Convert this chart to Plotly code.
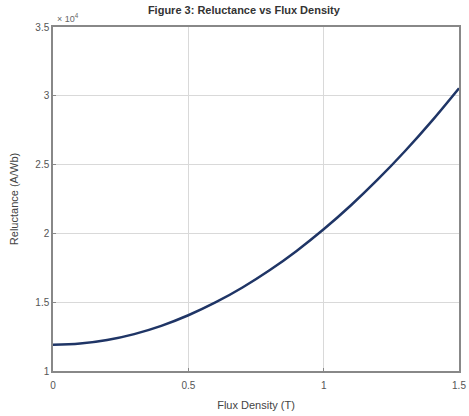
import plotly.graph_objects as go

flux_density = [0.0, 0.1, 0.2, 0.3, 0.4, 0.5, 0.6, 0.7, 0.8, 0.9, 1.0, 1.1, 1.2, 1.3, 1.4, 1.5]
reluctance = [11900, 11990, 12250, 12680, 13280, 14050, 14980, 16070, 17320, 18730,
              20300, 22030, 23920, 25970, 28180, 30550]
y_tick_vals = [10000, 15000, 20000, 25000, 30000, 35000]
y_tick_text = ["1", "1.5", "2", "2.5", "3", "3.5"]
x_tick_vals = [0, 0.5, 1, 1.5]
x_tick_text = ["0", "0.5", "1", "1.5"]

fig = go.Figure()
fig.add_trace(go.Scatter(x=flux_density, y=reluctance, mode="lines",
                         line=dict(color="#1f3566", width=2.5, shape="spline", smoothing=1.0)))

axis_common = dict(showline=True, linecolor="#888888", linewidth=1.5, mirror=True,
                   showgrid=True, gridcolor="#d9d9d9", gridwidth=1, zeroline=False,
                   ticks="inside", ticklen=3, tickcolor="#888888",
                   tickfont=dict(family="Liberation Sans, Arial", size=10, color="#555555"))

fig.update_layout(
    width=469, height=416,
    margin=dict(l=53, r=10, t=27, b=45),
    paper_bgcolor="white", plot_bgcolor="white",
    showlegend=False,
    title=dict(text="<b>Figure 3: Reluctance vs Flux Density</b>", x=0.52, xanchor="center",
               y=0.985, yanchor="top",
               font=dict(family="Liberation Sans, Arial", size=11, color="#333333")),
    xaxis=dict(range=[0, 1.5], tickvals=x_tick_vals, ticktext=x_tick_text,
               ticklabelstandoff=4, automargin=False,
               title=dict(text="Flux Density (T)", standoff=12,
                          font=dict(family="Liberation Sans, Arial", size=11, color="#444444")),
               **axis_common),
    yaxis=dict(range=[10000, 35000], tickvals=y_tick_vals, ticktext=y_tick_text,
               automargin=False,
               title=dict(text="Reluctance (A/Wb)", standoff=14,
                          font=dict(family="Liberation Sans, Arial", size=11, color="#444444")),
               **axis_common),
)
fig.add_annotation(xref="paper", yref="paper", x=0.0, y=1.0, xanchor="left", yanchor="bottom",
                   text="× 10<sup>4</sup>", showarrow=False, yshift=1, xshift=2,
                   font=dict(family="Liberation Sans, Arial", size=9, color="#666666"))

fig.write_html("out.html", config={"displayModeBar": False},
               post_script="document.body.style.margin='0px';")
